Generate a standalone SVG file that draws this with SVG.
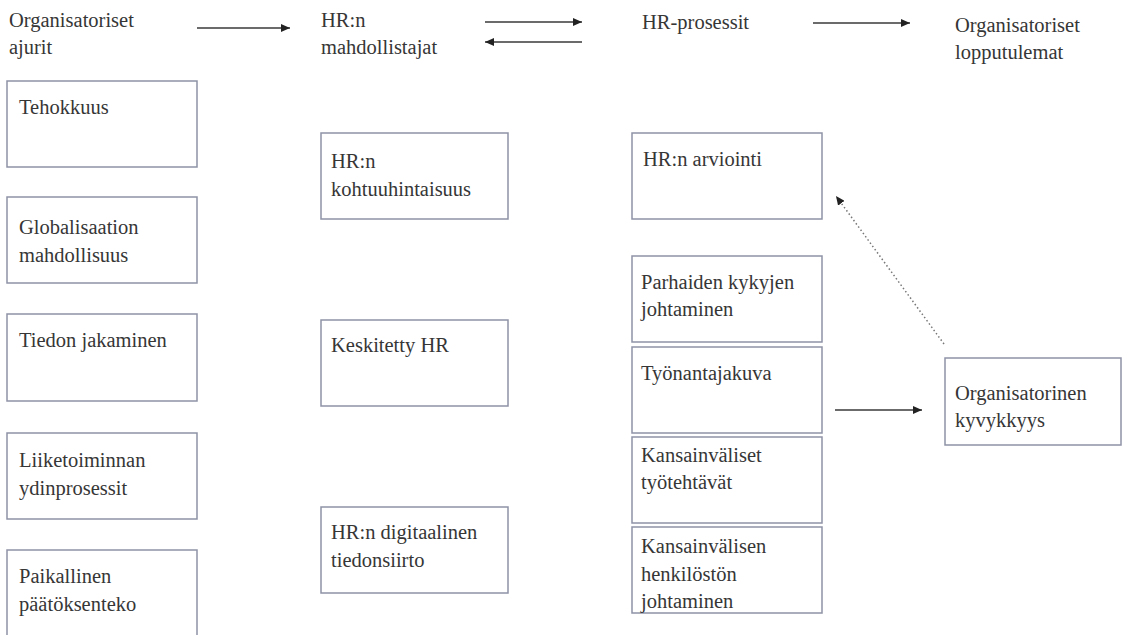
<svg xmlns="http://www.w3.org/2000/svg" width="1123" height="635" viewBox="0 0 1123 635">
<defs>
<style>
.box{fill:#ffffff;stroke:#8e93a6;stroke-width:1.5}
.t{font-family:'Liberation Serif','Times New Roman',serif;font-size:20.5px;fill:#363636}
.c{stroke:#3a3a3a;stroke-width:1.5;fill:none}
.d{stroke:#777777;stroke-width:1.5;fill:none;stroke-dasharray:1.5 2.5}
</style>
<marker id="ah" markerUnits="userSpaceOnUse" markerWidth="10" markerHeight="8" refX="9" refY="4" orient="auto">
<path d="M0,0 L9,4 L0,8 z" fill="#222222"/>
</marker>
</defs>
<rect width="1123" height="635" fill="#ffffff"/>

<g id="headers">
<text class="t" x="9" y="27">Organisatoriset</text>
<text class="t" x="9" y="54">ajurit</text>
<text class="t" x="321" y="27">HR:n</text>
<text class="t" x="321" y="54">mahdollistajat</text>
<text class="t" x="642" y="29">HR-prosessit</text>
<text class="t" x="955" y="32">Organisatoriset</text>
<text class="t" x="955" y="59">lopputulemat</text>
</g>

<g id="connectors">
<line class="c" x1="197" y1="28" x2="290" y2="28" marker-end="url(#ah)"/>
<line class="c" x1="485" y1="22" x2="582" y2="22" marker-end="url(#ah)"/>
<line class="c" x1="582" y1="42" x2="485" y2="42" marker-end="url(#ah)"/>
<line class="c" x1="813" y1="23" x2="910" y2="23" marker-end="url(#ah)"/>
<line class="c" x1="835" y1="410" x2="922" y2="410" marker-end="url(#ah)"/>
<line class="d" x1="944" y1="344" x2="836" y2="196" marker-end="url(#ah)"/>
</g>

<g id="n-tehokkuus"><rect class="box" x="7" y="81" width="190" height="86"/><text class="t" x="19" y="114">Tehokkuus</text></g>
<g id="n-globalisaatio"><rect class="box" x="7" y="197" width="190" height="86"/><text class="t" x="19" y="234">Globalisaation</text><text class="t" x="19" y="262">mahdollisuus</text></g>
<g id="n-tiedon"><rect class="box" x="7" y="314" width="190" height="87"/><text class="t" x="19" y="347">Tiedon jakaminen</text></g>
<g id="n-liiketoiminta"><rect class="box" x="7" y="433" width="190" height="86"/><text class="t" x="19" y="467">Liiketoiminnan</text><text class="t" x="19" y="495">ydinprosessit</text></g>
<g id="n-paikallinen"><rect class="box" x="7" y="550" width="190" height="86"/><text class="t" x="19" y="583">Paikallinen</text><text class="t" x="19" y="611">päätöksenteko</text></g>

<g id="n-kohtuuhintaisuus"><rect class="box" x="321" y="133" width="187" height="86"/><text class="t" x="331" y="168">HR:n</text><text class="t" x="331" y="196">kohtuuhintaisuus</text></g>
<g id="n-keskitetty"><rect class="box" x="321" y="320" width="187" height="86"/><text class="t" x="331" y="352">Keskitetty HR</text></g>
<g id="n-digitaalinen"><rect class="box" x="321" y="507" width="187" height="86"/><text class="t" x="331" y="539">HR:n digitaalinen</text><text class="t" x="331" y="567">tiedonsiirto</text></g>

<g id="n-arviointi"><rect class="box" x="632" y="133" width="190" height="86"/><text class="t" x="643" y="166">HR:n arviointi</text></g>
<g id="n-parhaiden"><rect class="box" x="632" y="256" width="190" height="86"/><text class="t" x="641" y="289">Parhaiden kykyjen</text><text class="t" x="641" y="316">johtaminen</text></g>
<g id="n-tyonantajakuva"><rect class="box" x="632" y="347" width="190" height="86"/><text class="t" x="641" y="380">Työnantajakuva</text></g>
<g id="n-kansainvaliset"><rect class="box" x="632" y="437" width="190" height="86"/><text class="t" x="641" y="462">Kansainväliset</text><text class="t" x="641" y="489">työtehtävät</text></g>
<g id="n-henkilosto"><rect class="box" x="632" y="527" width="190" height="86"/><text class="t" x="641" y="553">Kansainvälisen</text><text class="t" x="641" y="581">henkilöstön</text><text class="t" x="641" y="608">johtaminen</text></g>

<g id="n-kyvykkyys"><rect class="box" x="945" y="358" width="176" height="87"/><text class="t" x="955" y="400">Organisatorinen</text><text class="t" x="955" y="427">kyvykkyys</text></g>
</svg>
